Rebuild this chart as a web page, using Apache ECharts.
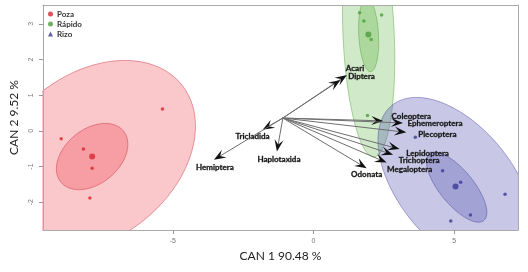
<!DOCTYPE html>
<html>
<head>
<meta charset="utf-8">
<script src="https://cdn.jsdelivr.net/npm/echarts@6/dist/echarts.min.js"></script>
<style>
  html, body { margin: 0; padding: 0; background: #fff; }
  #main { width: 528px; height: 272px; }
</style>
</head>
<body>
<div id="main"></div>
<script>
// --- data ---
var xTicks = [-5, 0, 5];
var yTicks = [-2, -1, 0, 1, 2, 3];

var pozaX = [-8.97, -8.18, -7.87, -7.95, -5.37];
var pozaY = [-0.22, -0.51, -1.05, -1.88, 0.61];
var rapidoX = [1.64, 2.42, 1.79, 2.05, 1.92];
var rapidoY = [3.31, 3.25, 3.08, 2.56, 0.43];
var rizoX = [4.59, 5.23, 6.81, 5.58, 4.88, 3.62];
var rizoY = [-1.12, -1.44, -1.78, -2.36, -2.53, -0.18];

// group centroids (Poza, Rápido, Rizo)
var centroidX = [-7.87, 1.95, 5.05];
var centroidY = [-0.72, 2.70, -1.56];

// ellipses: centre + two conjugate semi-axis vectors (data units)
var ellipseGroup = [0, 0, 1, 1, 2, 2];
var ellipseCx = [-7.87, -7.87, 1.96, 1.96, 5.06, 5.09];
var ellipseCy = [-0.72, -0.72, 2.69, 2.69, -1.49, -1.58];
var ellipseUx = [3.22, 1.12, 0.19, 0.07, 2.28, 0.97];
var ellipseUy = [1.98, 0.71, -3.42, -1.03, -2.20, -0.93];
var ellipseVx = [1.77, 0.60, -0.91, -0.35, -1.57, -0.46];
var ellipseVy = [-1.83, -0.60, -0.03, -0.015, -1.03, -0.31];

// biplot arrows
var arrowOrigin = [-1.09, 0.36];
var arrowNames = ['Tricladida', 'Hemiptera', 'Haplotaxida', 'Acari', 'Diptera', 'Odonata',
  'Coleoptera', 'Ephemeroptera', 'Plecoptera', 'Lepidoptera', 'Trichoptera', 'Megaloptera'];
var arrowX = [-1.81, -3.54, -1.30, 1.19, 0.96, 1.89, 2.48, 3.18, 3.30, 3.06, 2.83, 2.60];
var arrowY = [0.03, -0.81, -0.58, 1.57, 1.43, -1.05, 0.28, 0.22, -0.04, -0.51, -0.67, -0.89];

// label offsets from arrow tips (px)
var labelOffset = [[-10, 7], [1, 8], [2, 8], [8, -6], [21, -3], [0, 6],
  [28, -4], [32, 0], [31, 2], [28, 4], [26, 6], [23, 7]];

var groupFill = ['rgba(235,35,47,0.25)', 'rgba(67,167,35,0.25)', 'rgba(72,72,172,0.30)'];
var groupLine = ['rgba(200,40,50,0.55)', 'rgba(60,150,40,0.5)', 'rgba(60,60,150,0.55)'];
var groupPoint = ['#d9262e', '#4a9e3a', '#3a3a96'];

var myChart = echarts.init(document.getElementById('main'));

function toPairs(xs, ys) {
  return xs.map(function (x, i) { return [x, ys[i]]; });
}

var ellipseData = ellipseCx.map(function (cx, i) {
  return [cx, ellipseCy[i], ellipseUx[i], ellipseUy[i], ellipseVx[i], ellipseVy[i], ellipseGroup[i]];
});
var arrowData = arrowX.map(function (x, i) { return [x, arrowY[i], i]; });

var axisFont = 'Lato, "Open Sans", sans-serif';

var options = {
  animation: false,
  grid: { left: 37, right: 10, top: 5, bottom: 42 },
  legend: {
    orient: 'vertical',
    left: 48,
    top: 9,
    padding: 0,
    itemGap: 0,
    itemWidth: 5,
    itemHeight: 5,
    textStyle: { fontSize: 8, fontWeight: 'bold', color: '#333', fontFamily: axisFont, lineHeight: 10, padding: [0, 0, 0, -1] },
    data: [
      { name: 'Poza', icon: 'circle' },
      { name: 'Rápido', icon: 'circle' },
      { name: 'Rizo', icon: 'triangle' }
    ]
  },
  xAxis: [{
    type: 'value',
    min: -9.62,
    max: 7.27,
    name: 'CAN 1 90.48 %',
    nameLocation: 'middle',
    nameGap: 20,
    nameTextStyle: { fontSize: 12, color: '#222', fontFamily: axisFont },
    z: 10,
    axisLine: { show: true, onZero: false, lineStyle: { color: '#aaa' } },
    axisTick: { show: true, length: 4, customValues: xTicks, lineStyle: { color: '#999' } },
    axisLabel: { customValues: xTicks, fontSize: 7, color: '#777', margin: 8 },
    splitLine: { show: false }
  }, {
    type: 'value',
    position: 'top',
    min: -9.62,
    max: 7.27,
    z: 10,
    axisLine: { show: true, onZero: false, lineStyle: { color: '#aaa' } },
    axisTick: { show: false },
    axisLabel: { show: false },
    splitLine: { show: false }
  }],
  yAxis: [{
    type: 'value',
    min: -2.78,
    max: 3.53,
    name: 'CAN 2 9.52 %',
    nameLocation: 'middle',
    nameGap: 20,
    nameTextStyle: { fontSize: 12, color: '#222', fontFamily: axisFont },
    z: 10,
    axisLine: { show: true, onZero: false, lineStyle: { color: '#aaa' } },
    axisTick: { show: true, length: 4, customValues: yTicks, lineStyle: { color: '#999' } },
    axisLabel: { customValues: yTicks, rotate: 90, fontSize: 7, color: '#777', margin: 8 },
    splitLine: { show: false }
  }, {
    type: 'value',
    position: 'right',
    min: -2.78,
    max: 3.53,
    z: 10,
    axisLine: { show: true, onZero: false, lineStyle: { color: '#aaa' } },
    axisTick: { show: false },
    axisLabel: { show: false },
    splitLine: { show: false }
  }],
  series: [
    {
      type: 'custom',
      name: 'ellipses',
      clip: true,
      silent: true,
      z: 1,
      data: ellipseData,
      renderItem: function (params, api) {
        var cx = api.value(0), cy = api.value(1);
        var ux = api.value(2), uy = api.value(3);
        var vx = api.value(4), vy = api.value(5);
        var g = api.value(6);
        var pts = [];
        for (var k = 0; k < 90; k++) {
          var t = k / 90 * Math.PI * 2;
          var c = Math.cos(t), s = Math.sin(t);
          pts.push(api.coord([cx + c * ux + s * vx, cy + c * uy + s * vy]));
        }
        return {
          type: 'polygon',
          shape: { points: pts },
          style: { fill: groupFill[g], stroke: groupLine[g], lineWidth: 0.8 }
        };
      }
    },
    {
      type: 'custom',
      name: 'arrows',
      silent: true,
      z: 3,
      data: arrowData,
      renderItem: function (params, api) {
        var p0 = api.coord(arrowOrigin);
        var p1 = api.coord([api.value(0), api.value(1)]);
        var i = api.value(2);
        var dx = p1[0] - p0[0], dy = p1[1] - p0[1];
        var len = Math.sqrt(dx * dx + dy * dy);
        var ux = dx / len, uy = dy / len;
        var nx = -uy, ny = ux;
        var L = 12, W = 4.5;
        var bx = p1[0] - ux * L, by = p1[1] - uy * L;
        var notch = [p1[0] - ux * L * 0.6, p1[1] - uy * L * 0.6];
        var off = labelOffset[i];
        return {
          type: 'group',
          children: [{
            type: 'line',
            shape: { x1: p0[0], y1: p0[1], x2: notch[0], y2: notch[1] },
            style: { stroke: '#6e6e6e', lineWidth: 1 }
          }, {
            type: 'polygon',
            shape: { points: [p1, [bx + nx * W, by + ny * W], notch, [bx - nx * W, by - ny * W]] },
            style: { fill: '#111' }
          }, {
            type: 'text',
            x: p1[0] + off[0],
            y: p1[1] + off[1],
            style: {
              text: arrowNames[i],
              fontSize: 8,
              fontWeight: 'bold',
              fontFamily: axisFont,
              fill: '#1a1a1a',
              stroke: '#1a1a1a',
              lineWidth: 0.3,
              align: 'center',
              verticalAlign: 'middle'
            }
          }]
        };
      }
    },
    {
      type: 'scatter', name: 'Poza', z: 4, symbol: 'circle', symbolSize: 3.5,
      itemStyle: { color: groupPoint[0] },
      data: toPairs(pozaX, pozaY)
    },
    {
      type: 'scatter', name: 'Rápido', z: 4, symbol: 'circle', symbolSize: 3.5,
      itemStyle: { color: groupPoint[1] },
      data: toPairs(rapidoX, rapidoY)
    },
    {
      type: 'scatter', name: 'Rizo', z: 4, symbol: 'circle', symbolSize: 3.5,
      itemStyle: { color: groupPoint[2] },
      data: toPairs(rizoX, rizoY)
    },
    {
      type: 'scatter', name: 'centroids', z: 4, symbol: 'circle', symbolSize: 6,
      itemStyle: {
        color: function (p) { return groupPoint[p.dataIndex]; }
      },
      data: toPairs(centroidX, centroidY)
    }
  ]
};
myChart.setOption(options);
</script>
</body>
</html>
